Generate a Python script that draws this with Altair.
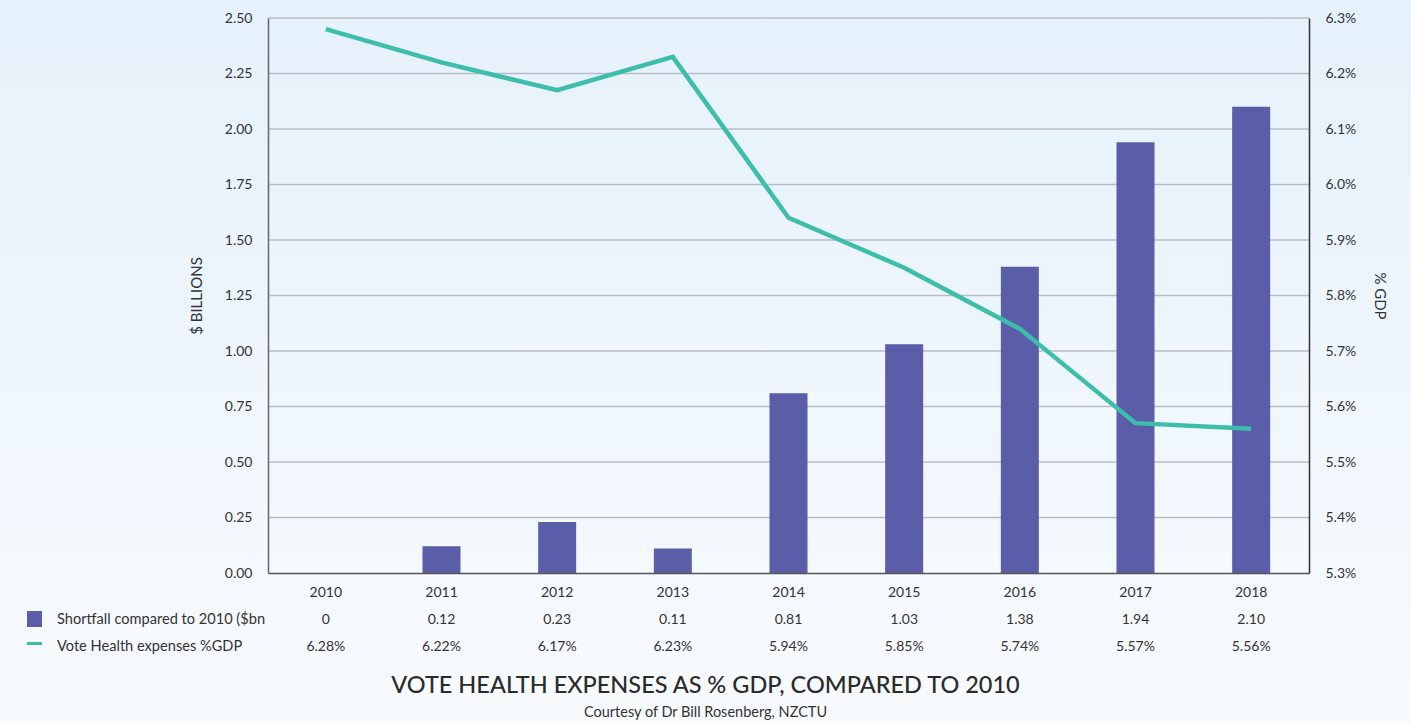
import altair as alt
import pandas as pd

years = ["2010", "2011", "2012", "2013", "2014", "2015", "2016", "2017", "2018"]
shortfall = [0, 0.12, 0.23, 0.11, 0.81, 1.03, 1.38, 1.94, 2.10]
shortfall_labels = ["0", "0.12", "0.23", "0.11", "0.81", "1.03", "1.38", "1.94", "2.10"]
gdp_pct = [6.28, 6.22, 6.17, 6.23, 5.94, 5.85, 5.74, 5.57, 5.56]
gdp_labels = ["6.28%", "6.22%", "6.17%", "6.23%", "5.94%", "5.85%", "5.74%", "5.57%", "5.56%"]
left_ticks = [0, 0.25, 0.5, 0.75, 1.0, 1.25, 1.5, 1.75, 2.0, 2.25, 2.5]
right_ticks = [5.3, 5.4, 5.5, 5.6, 5.7, 5.8, 5.9, 6.0, 6.1, 6.2, 6.3]

df = pd.DataFrame({
    "year": years,
    "shortfall": shortfall,
    "s_label": shortfall_labels,
    "pct": gdp_pct,
    "p_label": gdp_labels,
})
grid_df = pd.DataFrame({"shortfall": left_ticks[1:]})

FONT = "Lato"
TXT = "#333333"
W, H = 1041, 555
BAR = "#5a5ea8"
LINE = "#3dbdac"

x_axis = alt.Axis(title=None, labelAngle=0, ticks=False, domain=True,
                  domainColor="#555555", domainWidth=1.5, labelPadding=12,
                  labelFontSize=14, labelColor=TXT, labelFont=FONT, grid=False,
                  zindex=2, orient="bottom")
xenc = alt.X("year:O", scale=alt.Scale(paddingInner=0, paddingOuter=0), axis=x_axis)

left_axis = alt.Axis(title=None, values=left_ticks, format=".2f", ticks=False, grid=False,
                     domain=True, domainColor="#666666", domainWidth=1.5, labelPadding=16,
                     labelFontSize=14, labelColor=TXT, labelFont=FONT, orient="left",
                     zindex=2)
yleft = alt.Y("shortfall:Q", scale=alt.Scale(domain=[0, 2.5], nice=False), axis=left_axis)

bg = alt.Chart(alt.Data(values=[{}])).mark_rect(
    color=alt.Gradient(gradient="linear",
                       stops=[alt.GradientStop(color="#e5f1fb", offset=0),
                              alt.GradientStop(color="#f8fbfe", offset=1)],
                       x1=0, x2=0, y1=0, y2=1)
).encode(x=alt.value(-268), x2=alt.value(W + 102), y=alt.value(-18), y2=alt.value(H + 151))

grid = alt.Chart(grid_df).mark_rule(color="#b8bcc6", strokeWidth=1.5).encode(
    y=yleft, x=alt.value(0), x2=alt.value(W))

bars = alt.Chart(df).mark_bar(size=38, color=BAR).encode(x=xenc, y=yleft)

left = alt.layer(grid, bars)

line = alt.Chart(df).mark_line(color=LINE, strokeWidth=4.5).encode(
    x=xenc,
    y=alt.Y("pct:Q", scale=alt.Scale(domain=[5.3, 6.3], nice=False),
            axis=alt.Axis(title=None, values=right_ticks, orient="right", ticks=False, grid=False,
                          domain=True, domainColor="#333333", domainWidth=1.5, labelPadding=16,
                          labelFontSize=14, labelColor=TXT, labelFont=FONT, zindex=2,
                          labelExpr="format(datum.value, '.1f') + '%'")))

row1 = alt.Chart(df).mark_text(fontSize=14, color=TXT, font=FONT).encode(
    x=xenc, y=alt.value(602), text="s_label:N")
row2 = alt.Chart(df).mark_text(fontSize=14, color=TXT, font=FONT).encode(
    x=xenc, y=alt.value(629), text="p_label:N")

leg_text1 = alt.Chart(alt.Data(values=[{"t": "Shortfall compared to 2010 ($bn"}])).mark_text(
    fontSize=14.6, color=TXT, font=FONT, align="left").encode(
    x=alt.value(-211), y=alt.value(602), text="t:N")
leg_text2 = alt.Chart(alt.Data(values=[{"t": "Vote Health expenses %GDP"}])).mark_text(
    fontSize=14.6, color=TXT, font=FONT, align="left").encode(
    x=alt.value(-211), y=alt.value(629), text="t:N")
leg_sq = alt.Chart(alt.Data(values=[{}])).mark_rect(color=BAR).encode(
    x=alt.value(-241), x2=alt.value(-226), y=alt.value(593), y2=alt.value(609))
leg_ln = alt.Chart(alt.Data(values=[{}])).mark_rect(color=LINE).encode(
    x=alt.value(-241), x2=alt.value(-226), y=alt.value(624), y2=alt.value(627))

ytitle_l = alt.Chart(alt.Data(values=[{"t": "$ BILLIONS"}])).mark_text(
    fontSize=15, color=TXT, font=FONT, angle=270).encode(
    x=alt.value(-71), y=alt.value(278), text="t:N")
ytitle_r = alt.Chart(alt.Data(values=[{"t": "% GDP"}])).mark_text(
    fontSize=15, color=TXT, font=FONT, angle=90).encode(
    x=alt.value(1112), y=alt.value(278), text="t:N")

title = alt.Chart(alt.Data(values=[{"t": "VOTE HEALTH EXPENSES AS % GDP, COMPARED TO 2010"}])).mark_text(
    fontSize=23.5, color="#2b2b2b", font=FONT, fontWeight=500).encode(
    x=alt.value(437.5), y=alt.value(668), text="t:N")
subtitle = alt.Chart(alt.Data(values=[{"t": "Courtesy of Dr Bill Rosenberg, NZCTU"}])).mark_text(
    fontSize=14.5, color=TXT, font=FONT).encode(
    x=alt.value(437.5), y=alt.value(695), text="t:N")

chart = alt.layer(
    bg, left, line, row1, row2, leg_sq, leg_ln, leg_text1, leg_text2,
    ytitle_l, ytitle_r, title, subtitle
).resolve_scale(y="independent").properties(
    width=W, height=H,
    autosize=alt.AutoSizeParams(type="none"),
    padding={"left": 268, "top": 18, "right": 102, "bottom": 151},
    background="#f8fbfe",
).configure_view(stroke=None).configure(font=FONT)

chart.save("out.html", embed_options={"renderer": "svg", "actions": False})
